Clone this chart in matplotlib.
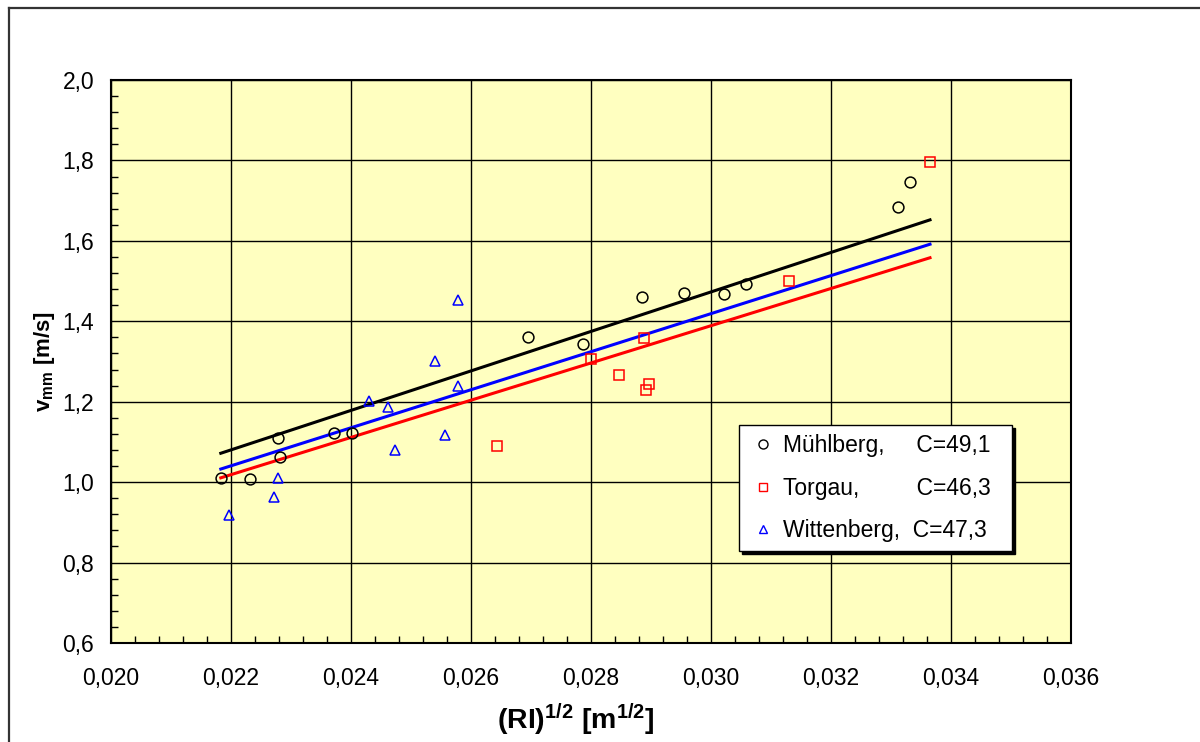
import numpy as np
import matplotlib
matplotlib.use("Agg")
import matplotlib.pyplot as plt
from matplotlib.ticker import MultipleLocator, FuncFormatter
from matplotlib.lines import Line2D

plt.rcParams['font.family'] = ['Liberation Sans', 'DejaVu Sans']
plt.rcParams['mathtext.fontset'] = 'custom'
plt.rcParams['mathtext.rm'] = 'Liberation Sans'
plt.rcParams['mathtext.bf'] = 'Liberation Sans:bold'
plt.rcParams['mathtext.default'] = 'bf'

# measured stations: sqrt(R*I) [m^1/2] and mean velocity v_mm [m/s]
muehlberg_x = [0.02183, 0.02232, 0.02278, 0.02282, 0.02371, 0.02401, 0.02695,
               0.02787, 0.02885, 0.02955, 0.03022, 0.03059, 0.03312, 0.03332]
muehlberg_v = [1.010, 1.008, 1.111, 1.062, 1.122, 1.122, 1.362,
               1.343, 1.461, 1.471, 1.469, 1.493, 1.685, 1.746]

torgau_x = [0.02643, 0.02800, 0.02846, 0.02888, 0.02897, 0.02891, 0.03130, 0.03365]
torgau_v = [1.091, 1.307, 1.267, 1.359, 1.244, 1.229, 1.500, 1.797]

wittenberg_x = [0.02197, 0.02271, 0.02279, 0.02430, 0.02461, 0.02473,
                0.02557, 0.02579, 0.02579, 0.02540]
wittenberg_v = [0.918, 0.962, 1.011, 1.201, 1.188, 1.080,
                1.117, 1.240, 1.452, 1.302]

# Chezy-type coefficients v = C * sqrt(R*I)
coef_muehlberg = 49.1
coef_torgau = 46.3
coef_wittenberg = 47.3


def comma(fmt):
    return FuncFormatter(lambda v, pos: (fmt % v).replace('.', ','))


fig = plt.figure(figsize=(12, 7.42), dpi=100)
ax = fig.add_axes([111 / 1200, 1 - 643 / 742, 960 / 1200, 563 / 742])
ax.set_facecolor('#FFFFC0')

all_x = muehlberg_x + torgau_x + wittenberg_x
fit_x = np.array([min(all_x), max(all_x)])
ax.plot(fit_x, coef_muehlberg * fit_x, color='black', lw=2.2, zorder=3)
ax.plot(fit_x, coef_torgau * fit_x, color='#FF0000', lw=2.2, zorder=3)
ax.plot(fit_x, coef_wittenberg * fit_x, color='#0000FF', lw=2.2, zorder=3)

ax.plot(muehlberg_x, muehlberg_v, 'o', ms=7.8, mfc='none', mec='black', mew=1.1, zorder=4)
ax.plot(torgau_x, torgau_v, 's', ms=6.8, mfc='none', mec='#FF0000', mew=1.1, zorder=4)
ax.plot(wittenberg_x, wittenberg_v, '^', ms=7.2, mfc='none', mec='#0000FF', mew=1.1, zorder=4)

ax.set_xlim(0.020, 0.036)
ax.set_ylim(0.6, 2.0)
ax.xaxis.set_major_locator(MultipleLocator(0.002))
ax.xaxis.set_minor_locator(MultipleLocator(0.0004))
ax.yaxis.set_major_locator(MultipleLocator(0.2))
ax.yaxis.set_minor_locator(MultipleLocator(0.04))
ax.xaxis.set_major_formatter(comma('%.3f'))
ax.yaxis.set_major_formatter(comma('%.1f'))
ax.tick_params(which='both', direction='in', labelsize=16.5)
ax.tick_params(which='major', length=0)
ax.tick_params(which='minor', length=5, width=1)
ax.tick_params(axis='x', which='major', pad=17)
ax.tick_params(axis='y', which='major', pad=12)
ax.grid(True, which='major', color='black', lw=1.0)
ax.set_axisbelow(True)
for sp in ax.spines.values():
    sp.set_linewidth(1.5)

ax.set_xlabel(r'(RI)$^{1/2}$ [m$^{1/2}$]', fontsize=20.5, fontweight='bold')
ax.xaxis.set_label_coords((576 - 111) / 960, (643 - 702) / 563)
ax.set_ylabel(r'v$_{mm}$ [m/s]', fontsize=16, fontweight='bold', labelpad=4)

handles = [
    Line2D([], [], ls='none', marker='o', ms=6.5, mfc='none', mec='black', mew=1.0),
    Line2D([], [], ls='none', marker='s', ms=6, mfc='none', mec='#FF0000', mew=1.0),
    Line2D([], [], ls='none', marker='^', ms=6, mfc='none', mec='#0000FF', mew=1.0),
]
labels = ['Mühlberg,     C=49,1  ', 'Torgau,         C=46,3  ', 'Wittenberg,  C=47,3  ']
leg = ax.legend(handles, labels, loc='upper left', bbox_to_anchor=((739 - 111) / 960, (643 - 425) / 563),
                borderaxespad=0, fontsize=16.5, frameon=True, fancybox=False,
                shadow={'color': 'black', 'alpha': 1}, handlelength=1.3, handletextpad=0.2,
                labelspacing=0.85, borderpad=0.4)
leg.get_frame().set_edgecolor('black')
leg.get_frame().set_linewidth(1.0)
leg.get_frame().set_facecolor('white')
leg.set_zorder(10)

# outer chart frame
fig.add_artist(Line2D([8.5 / 1200, 1.0], [1 - 7.5 / 742, 1 - 7.5 / 742], transform=fig.transFigure,
                      color='#333333', lw=1.6))
fig.add_artist(Line2D([8.5 / 1200, 8.5 / 1200], [0.0, 1 - 7.5 / 742], transform=fig.transFigure,
                      color='#333333', lw=1.6))

fig.savefig('out.png', dpi=100)
